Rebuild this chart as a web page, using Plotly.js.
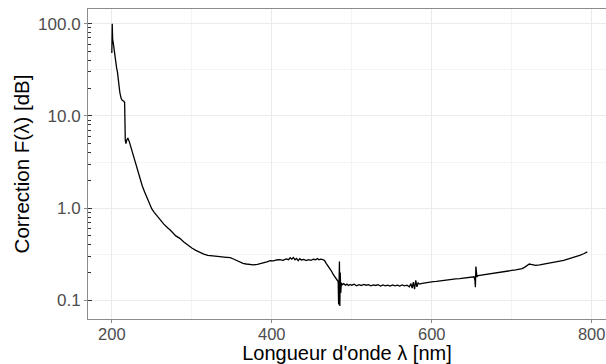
<!DOCTYPE html>
<html>
<head>
<meta charset="utf-8">
<script src="https://cdn.plot.ly/plotly-3.0.1.min.js"></script>
<style>html,body{margin:0;padding:0;background:#fff;}#chart{width:606px;height:364px;}</style>
</head>
<body>
<div id="chart"></div>
<script>
// Wavelength (nm)
const wavelength = [
  200, 200.5, 201, 202, 203, 204.5, 206, 207, 208.5, 210, 211.5, 213, 215, 216, 216.8, 217.6, 218.5, 220, 222, 225,
  227, 230, 232, 235, 238, 241, 244, 247, 250, 253, 256, 260, 265, 270, 273, 280, 285, 290, 295, 300,
  305, 310, 315, 320, 325, 330, 335, 340, 345, 348, 352, 356, 360, 364, 368, 372, 377, 382, 386, 390,
  394, 398, 402, 406, 410, 414, 418, 421, 423, 425, 427, 429, 431, 433, 435, 437, 440, 443, 446, 449,
  452, 455, 457, 459, 461, 464, 466, 468, 471, 474, 477, 479.5, 481.5, 483, 483.6, 484.1, 484.6, 485.1, 485.6, 486.2,
  487, 488, 490, 492, 494, 496, 498, 500, 503, 506, 509, 512, 515, 518, 521, 524, 527, 530, 533, 536,
  539, 542, 545, 548, 551, 554, 557, 560, 563, 566, 569, 572, 574, 575.5, 577, 578.5, 580, 581.5, 583, 585,
  588, 591, 594, 598, 602, 606, 610, 615, 620, 625, 630, 635, 640, 645, 650, 653, 654, 654.6, 655.2, 655.8,
  656.5, 658, 662, 667, 672, 677, 681, 686, 691, 696, 700, 705, 710, 713, 716, 719, 722, 724, 727, 730,
  735, 740, 744, 748, 752, 756, 760, 765, 770, 775, 780, 785, 790, 794.5
];
// Correction F(lambda) [dB]
const correction = [
  48, 100, 68, 60, 50, 39, 33, 30, 22.7, 18, 15.6, 14.8, 14.4, 14.0, 5.5, 5.0, 5.4, 5.75, 5.2, 4.2,
  3.64, 2.95, 2.6, 2.15, 1.75, 1.5, 1.3, 1.12, 0.98, 0.9, 0.83, 0.75, 0.67, 0.61, 0.58, 0.5, 0.47, 0.43, 0.395, 0.37,
  0.348, 0.331, 0.318, 0.308, 0.303, 0.301, 0.298, 0.295, 0.292, 0.29, 0.281, 0.27, 0.26, 0.252, 0.248, 0.245, 0.243, 0.246, 0.25, 0.254,
  0.262, 0.27, 0.268, 0.274, 0.276, 0.272, 0.282, 0.276, 0.29, 0.28, 0.292, 0.275, 0.285, 0.27, 0.283, 0.274, 0.278, 0.27, 0.276, 0.272,
  0.279, 0.276, 0.284, 0.275, 0.28, 0.277, 0.27, 0.252, 0.233, 0.212, 0.19, 0.175, 0.167, 0.16, 0.09, 0.2, 0.264, 0.087, 0.2, 0.12,
  0.155, 0.148, 0.152, 0.146, 0.15, 0.145, 0.149, 0.146, 0.15, 0.144, 0.148, 0.145, 0.149, 0.146, 0.148, 0.144, 0.147, 0.145, 0.148, 0.143,
  0.147, 0.144, 0.146, 0.143, 0.147, 0.144, 0.146, 0.143, 0.147, 0.144, 0.146, 0.14, 0.152, 0.136, 0.158, 0.132, 0.165, 0.14, 0.155, 0.15,
  0.153, 0.155, 0.156, 0.158, 0.16, 0.161, 0.163, 0.165, 0.167, 0.168, 0.171, 0.172, 0.174, 0.176, 0.179, 0.18, 0.165, 0.139, 0.233, 0.2,
  0.18, 0.185, 0.187, 0.19, 0.193, 0.196, 0.198, 0.201, 0.204, 0.208, 0.211, 0.214, 0.218, 0.221, 0.228, 0.238, 0.248, 0.246, 0.241, 0.24,
  0.243, 0.247, 0.249, 0.253, 0.257, 0.261, 0.265, 0.271, 0.28, 0.288, 0.297, 0.308, 0.32, 0.336
];
const xTicks = [200, 400, 600, 800];
const yTicks = [0.1, 1, 10, 100];
const yTickText = ['0.1', '1.0', '10.0', '100.0'];
const yHalfDecades = [0.31623, 3.1623, 31.623];
const yLogMinor = [0.2,0.3,0.4,0.5,0.6,0.7,0.8,0.9,2,3,4,5,6,7,8,9,20,30,40,50,60,70,80,90];

const font = 'Liberation Sans, Arial, sans-serif';
const trace = {
  x: wavelength, y: correction, type: 'scatter', mode: 'lines',
  line: {color: '#000000', width: 1.3}, hoverinfo: 'skip', showlegend: false
};
const helper = {x: [wavelength[0]], y: [correction[0]], yaxis: 'y2', type: 'scatter', mode: 'none', showlegend: false, hoverinfo: 'skip'};

const layout = {
  width: 606, height: 364,
  margin: {l: 88, r: 0, t: 9, b: 45, pad: 0},
  paper_bgcolor: '#ffffff', plot_bgcolor: '#ffffff',
  font: {family: font, color: '#4d4d4d'},
  showlegend: false,
  xaxis: {
    range: [170.2, 817.9], tickvals: xTicks, ticks: 'outside', ticklen: 3, tickcolor: '#8c8c8c', tickwidth: 1,
    showline: true, linecolor: '#8c8c8c', linewidth: 1, mirror: true,
    showgrid: true, gridcolor: '#ebebeb', gridwidth: 1, zeroline: false,
    minor: {dtick: 100, tick0: 0, showgrid: true, gridcolor: '#f4f4f4', gridwidth: 1, ticks: ''},
    tickfont: {size: 16.5, color: '#4d4d4d', family: font}, ticklabelstandoff: -3,
    title: {text: "Longueur d'onde λ [nm]", font: {size: 20, color: '#000000', family: font}, standoff: 5}
  },
  yaxis: {
    type: 'log', range: [-1.202, 2.159], tickvals: yTicks, ticktext: yTickText,
    ticks: 'outside', ticklen: 3, tickcolor: '#8c8c8c', tickwidth: 1,
    showline: true, linecolor: '#8c8c8c', linewidth: 1,
    showgrid: true, gridcolor: '#ebebeb', gridwidth: 1, zeroline: false,
    minor: {tickvals: yLogMinor, ticks: 'inside', ticklen: 2.5, tickcolor: '#333333', tickwidth: 1, showgrid: false},
    tickfont: {size: 17, color: '#4d4d4d', family: font},
    title: {text: 'Correction F(λ) [dB]', font: {size: 20.5, color: '#000000', family: font}, standoff: 2}
  },
  yaxis2: {
    type: 'log', range: [-1.202, 2.159], overlaying: 'y', side: 'left',
    tickvals: yTicks, ticks: 'inside', ticklen: 4, tickcolor: '#333333', tickwidth: 1, showticklabels: false,
    showgrid: false, zeroline: false, showline: false,
    minor: {tickvals: yHalfDecades, ticks: '', showgrid: true, gridcolor: '#f4f4f4', gridwidth: 1}
  }
};
Plotly.newPlot('chart', [helper, trace], layout, {staticPlot: true, displayModeBar: false});
</script>
</body>
</html>
